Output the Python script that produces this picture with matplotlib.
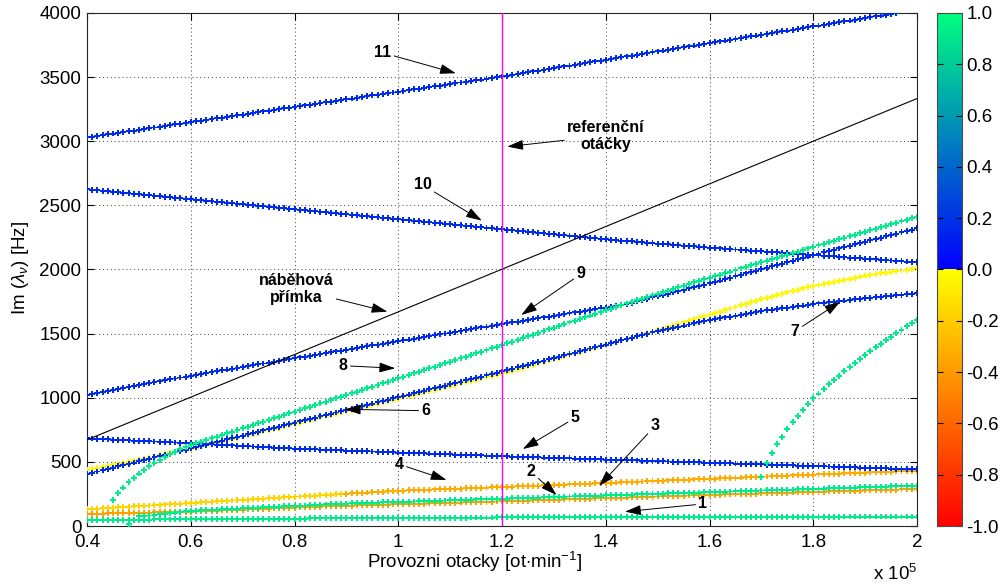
import numpy as np
import matplotlib
matplotlib.use("Agg")
import matplotlib.pyplot as plt
from matplotlib.colors import LinearSegmentedColormap, Normalize
from matplotlib.cm import ScalarMappable

plt.rcParams['font.family'] = ['Liberation Sans', 'DejaVu Sans']
plt.rcParams['mathtext.fontset'] = 'custom'
plt.rcParams['mathtext.rm'] = 'Liberation Sans'
plt.rcParams['mathtext.it'] = 'Liberation Sans:italic'
plt.rcParams['mathtext.bf'] = 'Liberation Sans:bold'

# ---------------- data (rpm step 1000) ----------------
RPM_STEP = 1000

mode11_start = 40000
mode11 = [3030, 3036, 3042, 3048, 3054, 3060, 3066, 3072, 3078, 3083, 3089, 3095, 3101, 3107, 3113, 3119, 3125, 3131, 3137, 3143,
          3149, 3155, 3161, 3167, 3173, 3179, 3184, 3190, 3196, 3202, 3208, 3214, 3220, 3226, 3232, 3238, 3244, 3250, 3256, 3262,
          3268, 3274, 3279, 3285, 3291, 3297, 3303, 3309, 3315, 3321, 3327, 3333, 3339, 3345, 3351, 3357, 3363, 3369, 3375, 3380,
          3386, 3392, 3398, 3404, 3410, 3416, 3422, 3428, 3434, 3440, 3446, 3452, 3458, 3464, 3470, 3476, 3481, 3487, 3493, 3499,
          3505, 3512, 3518, 3525, 3531, 3538, 3544, 3551, 3557, 3564, 3570, 3577, 3583, 3590, 3596, 3603, 3609, 3616, 3622, 3629,
          3635, 3642, 3648, 3655, 3661, 3668, 3674, 3681, 3687, 3694, 3700, 3707, 3713, 3720, 3726, 3733, 3739, 3746, 3752, 3759,
          3765, 3772, 3778, 3785, 3791, 3798, 3804, 3811, 3817, 3824, 3830, 3837, 3843, 3850, 3856, 3863, 3869, 3876, 3882, 3889,
          3895, 3902, 3908, 3915, 3921, 3928, 3934, 3941, 3947, 3954, 3960, 3967, 3973, 3980, 3986, 3993, 3999]

mode10_start = 40000
mode10 = [2625, 2621, 2617, 2613, 2609, 2606, 2602, 2598, 2594, 2590, 2586, 2582, 2578, 2574, 2570, 2567, 2563, 2559, 2555, 2551,
          2547, 2543, 2539, 2535, 2531, 2528, 2524, 2520, 2516, 2512, 2508, 2504, 2500, 2496, 2492, 2489, 2485, 2481, 2477, 2473,
          2469, 2465, 2461, 2457, 2453, 2450, 2446, 2442, 2438, 2434, 2430, 2426, 2422, 2418, 2414, 2411, 2407, 2403, 2399, 2395,
          2391, 2387, 2383, 2379, 2375, 2372, 2368, 2364, 2360, 2356, 2352, 2348, 2344, 2340, 2336, 2333, 2329, 2325, 2321, 2317,
          2313, 2309, 2305, 2301, 2297, 2294, 2290, 2286, 2282, 2278, 2274, 2270, 2266, 2262, 2258, 2255, 2251, 2247, 2243, 2239,
          2235, 2232, 2229, 2225, 2222, 2219, 2215, 2212, 2209, 2206, 2202, 2199, 2196, 2193, 2189, 2186, 2183, 2180, 2176, 2173,
          2170, 2167, 2164, 2161, 2159, 2156, 2153, 2150, 2147, 2144, 2142, 2139, 2136, 2133, 2130, 2127, 2124, 2122, 2119, 2116,
          2113, 2110, 2107, 2104, 2102, 2099, 2096, 2093, 2090, 2087, 2084, 2082, 2079, 2076, 2073, 2070, 2067, 2065, 2062, 2059,
          2056]

mode9_start = 40000
mode9 = [1021, 1029, 1036, 1044, 1051, 1059, 1067, 1074, 1082, 1089, 1097, 1105, 1112, 1120, 1127, 1135, 1143, 1150, 1158, 1165,
         1173, 1180, 1186, 1193, 1200, 1207, 1213, 1220, 1227, 1233, 1240, 1247, 1253, 1260, 1267, 1274, 1280, 1287, 1294, 1300,
         1307, 1314, 1320, 1327, 1334, 1341, 1347, 1354, 1361, 1367, 1374, 1381, 1387, 1394, 1401, 1408, 1414, 1421, 1428, 1434,
         1441, 1448, 1454, 1461, 1468, 1475, 1481, 1488, 1495, 1501, 1508, 1515, 1521, 1528, 1535, 1542, 1548, 1555, 1562, 1568,
         1575, 1581, 1588, 1594, 1601, 1607, 1613, 1620, 1626, 1633, 1639, 1645, 1652, 1658, 1665, 1671, 1677, 1684, 1690, 1697,
         1703, 1709, 1716, 1722, 1732, 1742, 1752, 1762, 1772, 1782, 1792, 1802, 1812, 1822, 1832, 1842, 1852, 1862, 1872, 1882,
         1892, 1903, 1914, 1925, 1936, 1947, 1958, 1969, 1980, 1991, 2002, 2013, 2024, 2035, 2046, 2057, 2068, 2079, 2090, 2101,
         2112, 2122, 2133, 2143, 2154, 2164, 2175, 2185, 2196, 2206, 2217, 2227, 2237, 2248, 2258, 2269, 2279, 2290, 2300, 2311,
         2321]

mode8_start = 45000
mode8 = [203, 255, 300, 340, 376, 409, 439, 467, 493, 517, 539, 560, 580, 598, 615,
         631, 644, 657, 670, 683, 696, 709, 722, 735, 748, 761, 774, 787, 800, 813, 826, 839, 852, 865, 878,
         891, 904, 917, 930, 943, 956, 969, 982, 995, 1008, 1021, 1034, 1047, 1060, 1073, 1086, 1099, 1112, 1125, 1138,
         1151, 1164, 1177, 1190, 1203, 1216, 1229, 1242, 1255, 1268, 1281, 1294, 1307, 1320, 1333, 1346, 1359, 1372, 1385, 1398,
         1411, 1425, 1438, 1452, 1465, 1479, 1492, 1506, 1519, 1533, 1546, 1560, 1573, 1587, 1600, 1614, 1627, 1641, 1654, 1668,
         1681, 1695, 1708, 1722, 1735, 1747, 1760, 1772, 1785, 1798, 1810, 1823, 1836, 1848, 1861, 1873, 1886, 1899, 1911, 1924,
         1936, 1948, 1960, 1972, 1984, 1996, 2008, 2020, 2032, 2044, 2056, 2068, 2080, 2092, 2104, 2116, 2128, 2140, 2152, 2164,
         2176, 2188, 2200, 2211, 2223, 2235, 2247, 2259, 2270, 2282, 2294, 2306, 2318, 2329, 2341, 2353, 2365, 2377, 2388, 2400,
         2412]

mode8_extra_rpm = [48000]
mode8_extra = [15]

mode6_7_start = 40000
mode6_7 = [405, 415, 425, 435, 445, 455, 465, 475, 485, 495, 505, 515, 525, 535, 545, 555, 565, 575, 585, 595,
           605, 615, 625, 635, 645, 655, 665, 675, 685, 695, 705, 715, 725, 735, 745, 755, 765, 775, 785, 795,
           805, 815, 825, 835, 845, 855, 865, 875, 885, 895, 905, 915, 925, 935, 945, 955, 965, 975, 985, 995,
           1005, 1015, 1025, 1035, 1045, 1055, 1065, 1075, 1085, 1095, 1105, 1115, 1125, 1135, 1145, 1155, 1165, 1175, 1185, 1195,
           1205, 1216, 1226, 1237, 1247, 1258, 1268, 1279, 1289, 1300, 1310, 1321, 1331, 1342, 1352, 1363, 1373, 1384, 1394, 1405,
           1415, 1426, 1436, 1447, 1457, 1468, 1478, 1489, 1499, 1510, 1520, 1529, 1537, 1546, 1554, 1563, 1571, 1580, 1588, 1597,
           1605, 1612, 1619, 1626, 1633, 1640, 1647, 1654, 1661, 1668, 1675, 1681, 1686, 1692, 1697, 1703, 1708, 1714, 1719, 1725,
           1730, 1735, 1739, 1744, 1748, 1753, 1758, 1762, 1767, 1771, 1776, 1780, 1784, 1788, 1792, 1796, 1800, 1804, 1808, 1812,
           1816]

yellow_start = 40000
yellow = [435, 443, 452, 460, 468, 476, 485, 493, 501, 509, 518, 526, 534, 542, 551, 559, 567, 575, 584, 592,
          600, 610, 620, 629, 639, 649, 659, 669, 679, 688, 698, 708, 718, 728, 738, 747, 757, 767, 777, 787,
          797, 806, 816, 826, 836, 846, 856, 865, 875, 885, 895, 905, 915, 924, 934, 944, 954, 964, 974, 983,
          993, 1003, 1013, 1023, 1033, 1042, 1052, 1062, 1072, 1082, 1092, 1101, 1111, 1121, 1131, 1141, 1151, 1160, 1170, 1180,
          1190, 1201, 1212, 1224, 1235, 1246, 1257, 1268, 1279, 1291, 1302, 1313, 1324, 1335, 1346, 1358, 1369, 1380, 1391, 1402,
          1413, 1425, 1436, 1447, 1458, 1469, 1480, 1492, 1503, 1514, 1525, 1537, 1550, 1562, 1574, 1587, 1599, 1611, 1623, 1636,
          1648, 1660, 1672, 1684, 1696, 1708, 1720, 1732, 1744, 1756, 1768, 1779, 1789, 1800, 1810, 1821, 1831, 1842, 1852, 1863,
          1873, 1881, 1889, 1897, 1905, 1913, 1921, 1929, 1937, 1945, 1953, 1959, 1964, 1970, 1975, 1981, 1987, 1992, 1998, 2003,
          2009]

mode5_start = 40000
mode5 = [684, 682, 680, 678, 676, 674, 672, 670, 668, 666, 665, 663, 661, 659, 657, 655, 653, 651, 649, 647,
         645, 643, 641, 639, 637, 635, 632, 630, 628, 626, 624, 622, 620, 618, 616, 614, 611, 609, 607, 605,
         603, 602, 600, 599, 597, 596, 594, 593, 591, 590, 588, 587, 585, 584, 582, 581, 579, 578, 576, 575,
         573, 572, 571, 569, 568, 566, 565, 563, 562, 560, 559, 557, 556, 554, 553, 551, 550, 548, 547, 545,
         544, 543, 541, 540, 539, 538, 536, 535, 534, 533, 531, 530, 529, 527, 526, 525, 524, 522, 521, 520,
         518, 517, 516, 515, 513, 512, 511, 510, 508, 507, 506, 504, 503, 502, 501, 499, 498, 497, 496, 494,
         493, 492, 491, 489, 488, 487, 485, 484, 483, 482, 480, 479, 478, 477, 475, 474, 473, 471, 470, 469,
         468, 466, 465, 464, 463, 461, 460, 459, 457, 456, 455, 454, 452, 451, 450, 448, 447, 446, 445, 443,
         442]

mode7g_start = 170000
mode7g = [384, 489, 567, 639, 696, 754, 808, 858, 904, 951, 996, 1033, 1069, 1105, 1139, 1173, 1207, 1240, 1272, 1304,
          1335, 1365, 1394, 1422, 1450, 1477, 1504, 1530, 1556, 1581, 1606]

mode4_start = 40000
mode4 = [130, 133, 135, 138, 140, 143, 145, 148, 150, 153, 155, 158, 160, 163, 165, 168, 170, 173, 175, 178,
         180, 182, 185, 187, 190, 192, 194, 197, 199, 202, 204, 206, 209, 211, 214, 216, 218, 221, 223, 226,
         228, 230, 233, 235, 237, 240, 242, 244, 247, 249, 252, 254, 256, 259, 261, 263, 266, 268, 270, 273,
         275, 276, 278, 279, 281, 282, 284, 285, 287, 288, 290, 291, 292, 294, 295, 297, 298, 300, 301, 303,
         304, 306, 307, 309, 310, 312, 314, 315, 317, 318, 320, 322, 323, 325, 326, 328, 330, 331, 333, 334,
         336, 338, 339, 341, 342, 344, 346, 347, 349, 350, 352, 354, 355, 357, 358, 360, 362, 363, 365, 366,
         368, 370, 371, 373, 374, 376, 378, 379, 381, 382, 384, 386, 387, 389, 390, 392, 394, 395, 397, 398,
         400, 402, 403, 405, 406, 408, 410, 411, 413, 414, 416, 418, 419, 421, 422, 424, 426, 427, 429, 430,
         432]

mode3_start = 40000
mode3 = [94, 95, 96, 97, 98, 99, 99, 100, 101, 102, 103, 104, 105, 106, 107, 108, 108, 109, 110, 111,
         112, 114, 115, 117, 118, 120, 121, 123, 125, 126, 128, 129, 131, 132, 134, 136, 137, 139, 140, 142,
         143, 145, 147, 148, 150, 151, 153, 154, 156, 157, 158, 159, 161, 162, 163, 164, 165, 166, 167, 168,
         170, 171, 172, 173, 174, 175, 176, 177, 179, 180, 181, 182, 183, 184, 185, 186, 188, 189, 190, 191,
         192, 193, 195, 196, 197, 198, 200, 201, 202, 203, 205, 206, 207, 208, 210, 211, 212, 213, 215, 216,
         217, 218, 220, 221, 222, 224, 225, 226, 228, 229, 230, 231, 233, 234, 235, 237, 238, 239, 241, 242,
         243, 244, 245, 246, 248, 249, 250, 251, 252, 253, 255, 256, 257, 258, 259, 260, 261, 263, 264, 265,
         266, 267, 268, 270, 271, 272, 273, 274, 275, 276, 278, 279, 280, 281, 282, 283, 284, 286, 287, 288,
         289]

mode2_start = 50000
mode2 = [75, 78, 82, 86, 90, 95, 100, 105, 109, 114, 118,
         120, 122, 124, 126, 128, 130, 131, 133, 135, 137, 139, 141, 143, 145, 147, 149, 151, 153, 155, 157,
         158, 160, 162, 164, 166, 168, 170, 172, 173, 175, 176, 177, 178, 180, 181, 182, 184, 185, 186, 187,
         189, 190, 191, 193, 194, 195, 196, 198, 199, 200, 202, 203, 204, 205, 207, 208, 209, 211, 212, 213,
         214, 216, 217, 218, 219, 221, 222, 223, 224, 226, 227, 228, 230, 231, 232, 233, 235, 236, 237, 239,
         240, 241, 242, 244, 245, 246, 247, 249, 250, 251, 253, 254, 255, 256, 258, 259, 260, 261, 263, 264,
         265, 267, 268, 269, 270, 272, 273, 274, 276, 277, 278, 279, 281, 282, 283, 284, 286, 287, 288, 290,
         291, 292, 293, 295, 296, 297, 298, 300, 301, 302, 304, 305, 306, 307, 309, 310, 311, 312, 314, 315]

mode1_start = 40000
mode1 = [47, 47, 48, 48, 48, 48, 49, 49, 49, 49, 50, 50, 50, 51, 51, 51, 51, 52, 52, 52,
         52, 53, 53, 53, 54, 54, 54, 54, 55, 55, 55, 55, 56, 56, 56, 57, 57, 57, 57, 58,
         58, 58, 58, 59, 59, 59, 59, 60, 60, 60, 60, 60, 61, 61, 61, 61, 62, 62, 62, 62,
         62, 63, 63, 63, 63, 64, 64, 64, 64, 64, 65, 65, 65, 65, 66, 66, 66, 66, 66, 67,
         67, 67, 67, 67, 68, 68, 68, 68, 68, 68, 68, 69, 69, 69, 69, 69, 69, 70, 70, 70,
         70, 70, 70, 70, 71, 71, 71, 71, 71, 71, 71, 72, 72, 72, 72, 72, 72, 72, 72, 72,
         72, 72, 72, 72, 72, 72, 72, 72, 73, 73, 73, 73, 73, 73, 73, 73, 73, 73, 73, 73,
         73, 73, 73, 73, 73, 73, 74, 74, 74, 74, 74, 74, 74, 74, 74, 74, 74, 74, 74, 74,
         74]

# colour value of each mode
cval_blue = 0.17
cval_green = 0.92
cval_yellow = -0.03
cval_mode3 = -0.37
cval_mode4 = [-0.17, -0.33]      # left part / right part
mode4_split_rpm = 90000

# reference lines
ramp_rpm = [40000, 200000]
ramp_hz = [672, 3333]
ref_rpm = 120000

xtick_vals = [40000, 60000, 80000, 100000, 120000, 140000, 160000, 180000, 200000]
xtick_labels = ['0.4', '0.6', '0.8', '1', '1.2', '1.4', '1.6', '1.8', '2']
ytick_vals = [0, 500, 1000, 1500, 2000, 2500, 3000, 3500, 4000]
cbar_ticks = [-1.0, -0.8, -0.6, -0.4, -0.2, 0.0, 0.2, 0.4, 0.6, 0.8, 1.0]
cbar_labels = ['-1.0', '-0.8', '-0.6', '-0.4', '-0.2', '0.0', '0.2', '0.4', '0.6', '0.8', '1.0']

# annotations: label, arrow tip (rpm, Hz), text position (rpm, Hz)
annotations = [
    ('11', (111100, 3530), (97000, 3690)),
    ('referenční\notáčky', (121000, 2958), (140000, 3043)),
    ('10', (116100, 2381), (104700, 2659)),
    ('náběhová\npřímka', (97900, 1671), (80300, 1848)),
    ('9', (123700, 1645), (135200, 1965)),
    ('8', (99400, 1230), (89400, 1250)),
    ('6', (89700, 910), (105300, 899)),
    ('5', (124000, 600), (134100, 844)),
    ('4', (109300, 359), (100200, 481)),
    ('2', (130500, 242), (125600, 423)),
    ('3', (138700, 312), (149500, 780)),
    ('1', (143700, 112), (158700, 172)),
    ('7', (185200, 1749), (176500, 1520)),
]

# ---------------- colormap (autumn below 0, winter above 0) ----------------
cdict = {
    'red':   [(0.0, 1.0, 1.0), (0.5, 1.0, 0.0), (1.0, 0.0, 0.0)],
    'green': [(0.0, 0.0, 0.0), (0.5, 1.0, 0.0), (1.0, 1.0, 1.0)],
    'blue':  [(0.0, 0.0, 0.0), (0.5, 0.0, 1.0), (1.0, 0.5, 0.5)],
}
cmap = LinearSegmentedColormap('autumn_winter', cdict, N=512)
norm = Normalize(vmin=-1, vmax=1)

fig = plt.figure(figsize=(10.05, 5.87), dpi=100)
ax = fig.add_axes([0.0866, 0.1039, 0.8259, 0.874])

MARKER_S = 18


def rpm_axis(start, n):
    return start + RPM_STEP * np.arange(n)


def draw(start, vals, cv, z=3):
    x = rpm_axis(start, len(vals))
    if np.ndim(cv) == 0:
        c = np.full(len(vals), float(cv))
    else:
        c = np.asarray(cv, dtype=float)
    ax.scatter(x, vals, c=c, cmap=cmap, norm=norm, marker='P', s=MARKER_S,
               linewidths=0, zorder=z)


# orange / yellow
m4x = rpm_axis(mode4_start, len(mode4))
m4c = np.where(m4x < mode4_split_rpm, cval_mode4[0], cval_mode4[1])
draw(mode4_start, mode4, m4c)
draw(mode3_start, mode3, cval_mode3)
draw(yellow_start, yellow, cval_yellow)
# blue
draw(mode11_start, mode11, cval_blue)
draw(mode10_start, mode10, cval_blue)
draw(mode9_start, mode9, cval_blue)
draw(mode6_7_start, mode6_7, cval_blue)
draw(mode5_start, mode5, cval_blue)
# green
draw(mode8_start, mode8, cval_green, z=4)
ax.scatter(mode8_extra_rpm, mode8_extra, c=[cval_green], cmap=cmap, norm=norm, marker='P',
           s=MARKER_S, linewidths=0, zorder=4)
draw(mode7g_start, mode7g, cval_green, z=4)
draw(mode2_start, mode2, cval_green, z=4)
draw(mode1_start, mode1, cval_green, z=4)

ax.plot(ramp_rpm, ramp_hz, color='black', lw=0.8, zorder=5)
ax.axvline(ref_rpm, color=(1, 0, 1), lw=1.0, zorder=5)

ax.set_xlim(40000, 200000)
ax.set_ylim(0, 4000)
ax.set_xticks(xtick_vals)
ax.set_xticklabels(xtick_labels)
ax.set_yticks(ytick_vals)
ax.tick_params(direction='in', length=5, width=0.8, top=True, right=True, labelsize=13.5, pad=4, colors='black')
ax.tick_params(axis='x', pad=6)
ax.grid(True, linestyle=(0, (1, 3)), color='0.25', lw=0.7, zorder=0)
ax.set_axisbelow(True)
for sp in ax.spines.values():
    sp.set_linewidth(0.8)
    sp.set_color('0.15')

ax.set_xlabel('Provozni otacky [ot$\\cdot$min$^{-1}$]', fontsize=13.5, va='center')
ax.xaxis.set_label_coords(0.4675, -0.071)
ax.set_ylabel('Im ($\\lambda_\\nu$) [Hz]', fontsize=13.5, va='center')
ax.yaxis.set_label_coords(-0.080, 0.503)
fig.text(0.9124, 0.022, 'x 10$^5$', ha='right', va='center', fontsize=13.5)

for label, tip, txt in annotations:
    ax.annotate(label, xy=tip, xytext=txt, ha='center', va='center', fontsize=11.5,
                fontweight='bold', linespacing=1.15, zorder=6,
                arrowprops=dict(arrowstyle='-|>,head_length=0.7,head_width=0.22', color='black',
                                lw=0.7, mutation_scale=14, shrinkA=0, shrinkB=0))

cax = fig.add_axes([0.9323, 0.1039, 0.0249, 0.874])
sm = ScalarMappable(norm=norm, cmap=cmap)
cb = fig.colorbar(sm, cax=cax, ticks=cbar_ticks)
cb.ax.set_yticklabels(cbar_labels)
cb.ax.tick_params(direction='in', length=4, width=0.8, left=True, right=True, labelsize=13.5, pad=3)
cb.outline.set_linewidth(0.8)
cb.outline.set_edgecolor('0.3')

fig.savefig('out.png', dpi=100)
